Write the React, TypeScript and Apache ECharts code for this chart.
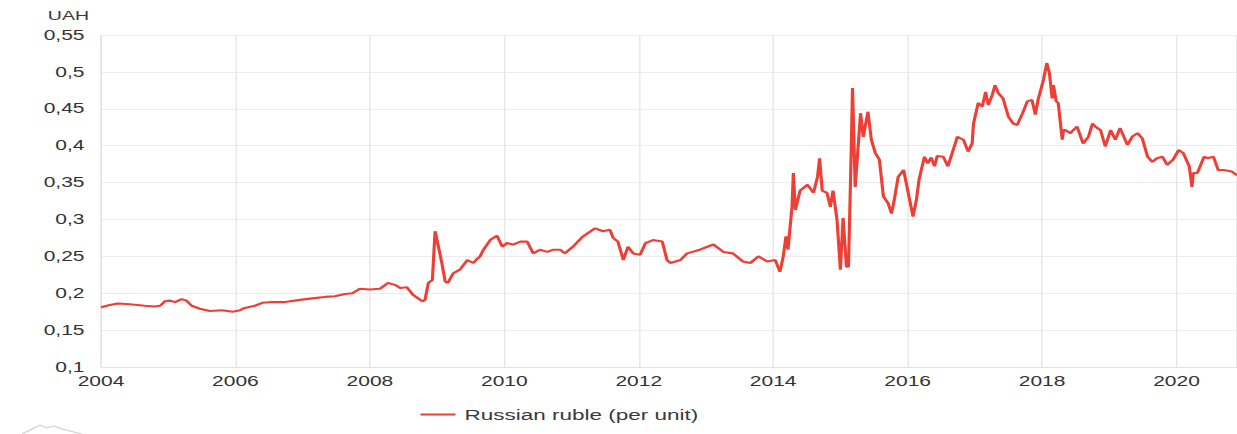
import React, { useEffect, useRef } from "react";
import * as echarts from "echarts";

const years: number[] = [
  2004.0, 2004.13, 2004.25, 2004.43, 2004.65, 2004.8, 2004.88, 2004.95, 2005.03, 2005.1,
  2005.2, 2005.27, 2005.35, 2005.47, 2005.62, 2005.8, 2005.96, 2006.07, 2006.14, 2006.29,
  2006.4, 2006.55, 2006.74, 2006.96, 2007.14, 2007.33, 2007.48, 2007.63, 2007.74, 2007.85,
  2008.0, 2008.15, 2008.27, 2008.38, 2008.45, 2008.55, 2008.64, 2008.78, 2008.82, 2008.87,
  2008.93, 2008.97, 2009.02, 2009.07, 2009.12, 2009.16, 2009.24, 2009.34, 2009.45, 2009.54,
  2009.6, 2009.64, 2009.69, 2009.79, 2009.89, 2009.97, 2010.04, 2010.13, 2010.24, 2010.34,
  2010.43, 2010.53, 2010.64, 2010.73, 2010.83, 2010.9, 2011.02, 2011.17, 2011.35, 2011.47,
  2011.57, 2011.62, 2011.69, 2011.77, 2011.84, 2011.92, 2012.02, 2012.1, 2012.21, 2012.35,
  2012.42, 2012.47, 2012.62, 2012.72, 2012.91, 2013.11, 2013.26, 2013.4, 2013.55, 2013.66,
  2013.78, 2013.91, 2014.03, 2014.1, 2014.15, 2014.19, 2014.22, 2014.28, 2014.3, 2014.33,
  2014.4, 2014.51, 2014.6, 2014.66, 2014.69, 2014.73, 2014.8, 2014.85, 2014.89, 2014.95,
  2015.0, 2015.04, 2015.09, 2015.12, 2015.16, 2015.18, 2015.22, 2015.3, 2015.34, 2015.41,
  2015.46, 2015.52, 2015.58, 2015.64, 2015.71, 2015.76, 2015.8, 2015.86, 2015.94, 2015.98,
  2016.02, 2016.08, 2016.13, 2016.17, 2016.25, 2016.3, 2016.35, 2016.4, 2016.44, 2016.53, 2016.6, 2016.66,
  2016.74, 2016.83, 2016.9, 2016.96, 2016.98, 2017.05, 2017.11, 2017.16, 2017.2, 2017.26,
  2017.3, 2017.35, 2017.42, 2017.5, 2017.57, 2017.63, 2017.71, 2017.78, 2017.85, 2017.9,
  2017.94, 2018.02, 2018.07, 2018.11, 2018.15, 2018.17, 2018.21, 2018.24, 2018.3, 2018.32,
  2018.35, 2018.42, 2018.52, 2018.61, 2018.69, 2018.75, 2018.79, 2018.87, 2018.94, 2019.02,
  2019.09, 2019.16, 2019.27, 2019.34, 2019.42, 2019.49, 2019.57, 2019.64, 2019.71, 2019.79,
  2019.86, 2019.95, 2020.03, 2020.1, 2020.19, 2020.23, 2020.25, 2020.31, 2020.41, 2020.46,
  2020.55, 2020.62, 2020.7, 2020.82, 2020.9,
];

const rubleRates: number[] = [
  0.181, 0.184, 0.186, 0.185, 0.183, 0.182, 0.183, 0.189, 0.19, 0.188,
  0.192, 0.19, 0.183, 0.179, 0.176, 0.177, 0.175, 0.177, 0.18, 0.183,
  0.187, 0.188, 0.188, 0.191, 0.193, 0.195, 0.196, 0.199, 0.2, 0.206,
  0.205, 0.206, 0.214, 0.211, 0.207, 0.208, 0.198, 0.189, 0.191, 0.214,
  0.218, 0.284, 0.263, 0.241, 0.216, 0.214, 0.227, 0.232, 0.245, 0.241,
  0.247, 0.25, 0.259, 0.272, 0.278, 0.263, 0.268, 0.266, 0.27, 0.27,
  0.254, 0.259, 0.256, 0.259, 0.259, 0.254, 0.263, 0.277, 0.288, 0.284,
  0.286, 0.275, 0.27, 0.245, 0.263, 0.254, 0.252, 0.268, 0.272, 0.27,
  0.245, 0.241, 0.245, 0.254, 0.259, 0.266, 0.256, 0.254, 0.243, 0.241,
  0.25, 0.243, 0.245, 0.229, 0.25, 0.277, 0.259, 0.317, 0.363, 0.313,
  0.339, 0.347, 0.336, 0.358, 0.383, 0.339, 0.336, 0.317, 0.339, 0.299,
  0.232, 0.302, 0.236, 0.236, 0.389, 0.478, 0.344, 0.444, 0.412, 0.446,
  0.408, 0.39, 0.381, 0.331, 0.322, 0.308, 0.326, 0.358, 0.367, 0.349,
  0.331, 0.304, 0.326, 0.354, 0.385, 0.376, 0.384, 0.372, 0.386, 0.385, 0.372, 0.389,
  0.412, 0.408, 0.392, 0.403, 0.43, 0.458, 0.453, 0.473, 0.455, 0.469,
  0.482, 0.471, 0.464, 0.439, 0.43, 0.428, 0.444, 0.46, 0.462, 0.442,
  0.462, 0.489, 0.512, 0.498, 0.464, 0.482, 0.46, 0.458, 0.408, 0.421,
  0.421, 0.417, 0.426, 0.403, 0.412, 0.43, 0.426, 0.421, 0.399, 0.421,
  0.408, 0.424, 0.401, 0.412, 0.417, 0.41, 0.385, 0.378, 0.383, 0.385,
  0.374, 0.381, 0.394, 0.39, 0.372, 0.344, 0.363, 0.363, 0.385, 0.383,
  0.385, 0.367, 0.367, 0.365, 0.36,
];

const yTicks: number[] = [0.1, 0.15, 0.2, 0.25, 0.3, 0.35, 0.4, 0.45, 0.5, 0.55];
const seriesName = "Russian ruble (per unit)";
const unitLabel = "UAH";

const OUT_W = 1237;
const OUT_H = 434;
const STRETCH = 1.5;
const IN_W = OUT_W / STRETCH;

export default function App() {
  const ref = useRef<HTMLDivElement>(null);
  useEffect(() => {
    document.body.style.margin = "0";
    if (!ref.current) return;
    const chart = echarts.init(ref.current, undefined, { renderer: "svg", width: IN_W, height: OUT_H });
    const data = years.map((y, i) => [y, rubleRates[i]]);
    const font = "'Liberation Sans', Arial, sans-serif";
    const sx = (x: number) => x / STRETCH;
    chart.setOption({
      animation: false,
      grid: { left: sx(101), right: 0, top: 35, bottom: 67, containLabel: false },
      legend: {
        data: [seriesName],
        left: sx(413),
        top: 402,
        icon: "rect",
        itemWidth: sx(35),
        itemHeight: 2,
        itemGap: 8,
        textStyle: { fontFamily: font, fontSize: 15, color: "#3a3a3a", padding: [0, 0, 0, 1] },
      },
      xAxis: {
        type: "value",
        min: 2004,
        max: 2020.9,
        interval: 2,
        axisLine: { show: true, lineStyle: { color: "#e2e2e2" } },
        axisTick: { show: false },
        splitLine: { show: true, lineStyle: { color: "#e8e8e8", width: 1 } },
        axisLabel: {
          showMaxLabel: false,
          formatter: (v: number) => String(Math.round(v)),
          fontFamily: font,
          fontSize: 14,
          color: "#333",
          margin: 7,
        },
      },
      yAxis: {
        type: "value",
        min: yTicks[0],
        max: yTicks[yTicks.length - 1],
        interval: 0.05,
        name: unitLabel,
        nameLocation: "end",
        nameGap: 13,
        nameTextStyle: { fontFamily: font, fontSize: 13, color: "#3a3a3a", align: "right", padding: [0, 8, 0, 0] },
        axisLine: { show: true, lineStyle: { color: "#e2e2e2" } },
        axisTick: { show: false },
        splitLine: { show: true, lineStyle: { color: "#ececec", width: 1 } },
        axisLabel: {
          formatter: (v: number) => String(+v.toFixed(2)).replace(".", ","),
          fontFamily: font,
          fontSize: 14,
          color: "#333",
          margin: 11,
        },
      },
      series: [
        {
          name: seriesName,
          type: "line",
          data,
          showSymbol: false,
          symbol: "none",
          lineStyle: { color: "#ee3f37", width: 2.1 },
          itemStyle: { color: "#ee3f37" },
        },
      ],
      graphic: [
        {
          type: "polyline",
          shape: {
            points: [
              [sx(22), 434], [sx(32), 429], [sx(40), 425], [sx(47), 428], [sx(54), 426], [sx(62), 429], [sx(70), 431], [sx(82), 434],
            ],
          },
          style: { stroke: "#cfcfcf", lineWidth: 1, fill: "none" },
        },
      ],
    });
    return () => chart.dispose();
  }, []);
  return (
    <div style={{ width: OUT_W, height: OUT_H, overflow: "hidden", position: "relative" }}>
      <div
        ref={ref}
        style={{
          width: IN_W,
          height: OUT_H,
          transform: `scaleX(${STRETCH})`,
          transformOrigin: "0 0",
        }}
      />
    </div>
  );
}
